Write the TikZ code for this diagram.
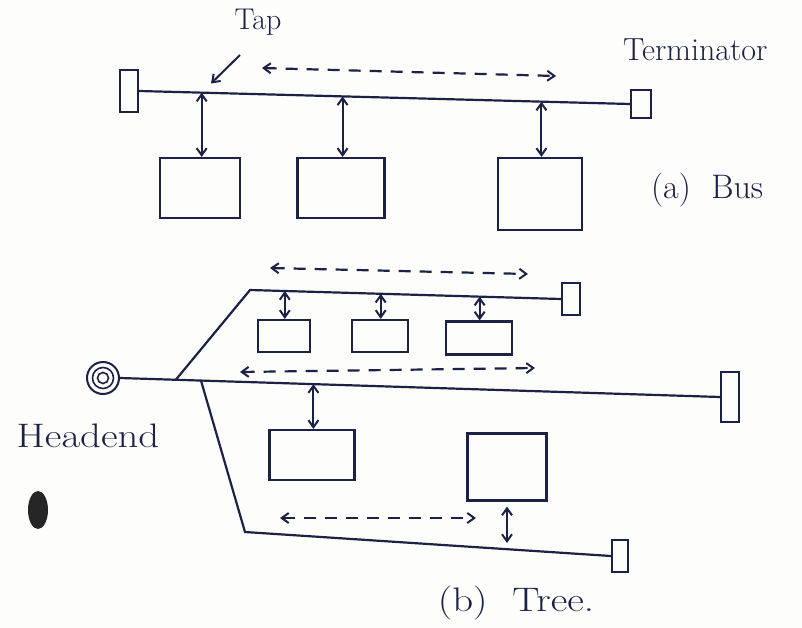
\documentclass[tikz,border=0pt]{standalone}
\usetikzlibrary{arrows.meta,calc}
\definecolor{ink}{HTML}{1C2245}
\definecolor{paper}{HTML}{FDFDFC}
\newcommand{\widetext}[1]{\scalebox{1.2}[1]{#1}}
\begin{document}
\begin{tikzpicture}[x=1pt,y=-1pt,
  line width=2.2pt, draw=ink, text=ink,
  >={Straight Barb[length=7pt,width=10pt,line width=2pt]},
  term/.style={draw=ink, rectangle, inner sep=0pt, fill=paper},
  stn/.style={draw=ink, rectangle, inner sep=0pt},
  cable/.style={draw=ink, line width=2.2pt},
  link/.style={draw=ink, <->, line width=2pt},
  flow/.style={draw=ink, <->, dash pattern=on 12pt off 9pt, line width=2.2pt},
  lbl/.style={font=\fontsize{34}{38}\selectfont, inner sep=0pt}]
\useasboundingbox (0,0) rectangle (802,628);
\fill[paper] (0,0) rectangle (802,628);

% ---------- (a) bus ----------
\node[term, minimum width=18pt, minimum height=42pt] (ta1) at (129,91) {};
\node[term, minimum width=20pt, minimum height=28pt] (ta2) at (641,104) {};
\draw[cable] (ta1.east) -- (ta2.west);

\node[stn, minimum width=80pt, minimum height=60pt] (s1) at (200,188) {};
\node[stn, minimum width=87pt, minimum height=60pt] (s2) at (341,188) {};
\node[stn, minimum width=84pt, minimum height=72pt] (s3) at (540,194) {};

\coordinate (p1) at ($(ta1.east)!(s1.north)!(ta2.west)$);
\coordinate (p2) at ($(ta1.east)!(s2.north)!(ta2.west)$);
\coordinate (p3) at ($(ta1.east)!(s3.north)!(ta2.west)$);
\draw[link] (p1) -- (p1 |- s1.north);
\draw[link] (p2) -- (p2 |- s2.north);
\draw[link] (p3) -- (p3 |- s3.north);

\node[lbl, font=\fontsize{30}{34}\selectfont] (tap) at (258,22) {Tap};
\coordinate (tapfrom) at (240,55);
\draw[->, line width=2pt, shorten >=13pt] (tapfrom) -- (p1);

\coordinate (da1) at (262,68);
\coordinate (da2) at (556,76);
\draw[flow] (da1) -- (da2);

\node[lbl, anchor=west, font=\fontsize{32}{36}\selectfont] (termlbl) at (622,50) {Terminator};
\node[lbl, anchor=west] (buslbl) at (650,190) {(a)\ \ Bus};

% ---------- (b) tree ----------
\node[circle, draw=ink, minimum size=32pt, inner sep=0pt, line width=2pt] (he) at (103,378) {};
\draw[line width=1.6pt] (he.center) circle (10.5) (he.center) circle (5.5);
\node[lbl] (helbl) at (88,436) {\widetext{Headend}};

\node[term, minimum width=18pt, minimum height=50pt] (tm) at (730,397) {};
\draw[cable] (he.east) -- (tm.west);
\coordinate (j1) at ($(he.east)!0.093!(tm.west)$);
\coordinate (j2) at ($(he.east)!0.135!(tm.west)$);

% upper branch
\coordinate (c1) at (250,290);
\node[term, minimum width=18pt, minimum height=32pt] (tu) at (571,299) {};
\draw[cable] (j1) -- (c1) -- (tu.west);

\node[stn, minimum width=52pt, minimum height=32pt] (u1) at (284,336) {};
\node[stn, minimum width=56pt, minimum height=32pt] (u2) at (380,336) {};
\node[stn, minimum width=66pt, minimum height=33pt] (u3) at (479,338) {};
\coordinate (q1) at ($(c1)!(u1.north)!(tu.west)$);
\coordinate (q2) at ($(c1)!(u2.north)!(tu.west)$);
\coordinate (q3) at ($(c1)!(u3.north)!(tu.west)$);
\draw[link] (q1) -- (q1 |- u1.north);
\draw[link] (q2) -- (q2 |- u2.north);
\draw[link] (q3) -- (q3 |- u3.north);

\coordinate (db1) at (270,268);
\coordinate (db2) at (528,274);
\draw[flow] (db1) -- (db2);
\coordinate (dc1) at (240,372);
\coordinate (dc2) at (535,368);
\draw[flow] (dc1) -- (dc2);

% main line stations
\node[stn, minimum width=85pt, minimum height=50pt] (m1) at (312,455) {};
\node[stn, minimum width=79pt, minimum height=67pt] (m2) at (507,467) {};
\coordinate (r1) at ($(he.east)!(m1.north)!(tm.west)$);
\draw[link] (r1) -- (r1 |- m1.north);

% lower branch
\coordinate (c2) at (245,532);
\node[term, minimum width=16pt, minimum height=32pt] (tl) at (620,556) {};
\draw[cable] (j2) -- (c2) -- (tl.west);
\coordinate (r2) at ($(c2)!(m2.south)!(tl.west)$);
\draw[link, shorten <=5pt, shorten >=6pt] (m2.south) -- (m2.south |- r2);

\coordinate (dd1) at (280,518);
\coordinate (dd2) at (476,518);
\draw[flow] (dd1) -- (dd2);

\node[lbl] (treelbl) at (516,603) {\widetext{(b)\ \ Tree.}};

% punch hole
\fill[black!85] (38,510) ellipse (10 and 19);
\end{tikzpicture}
\end{document}
